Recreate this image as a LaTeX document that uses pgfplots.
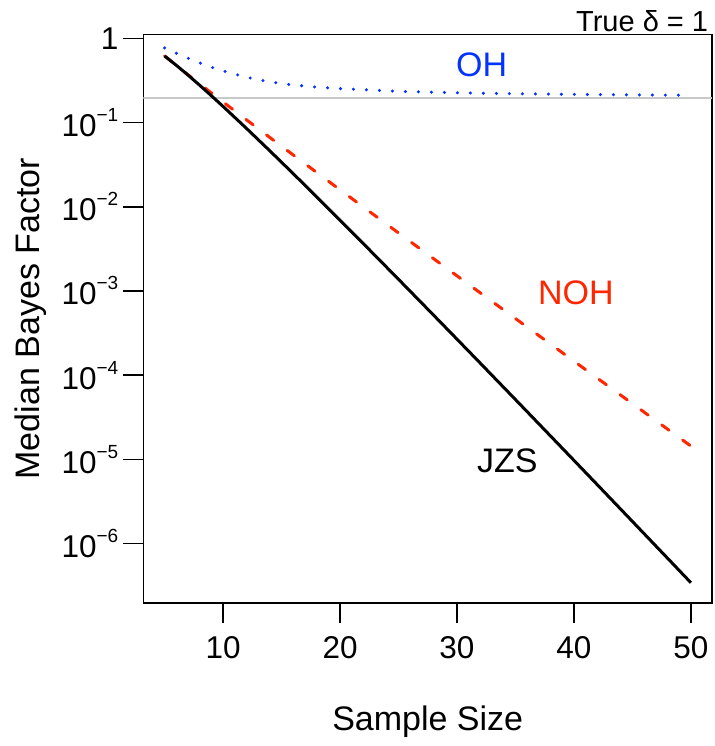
\documentclass[border=0pt]{standalone}
\usepackage{fontspec}
\setmainfont{Liberation Sans}
\usepackage{pgfplots}
\pgfplotsset{compat=1.18}
\definecolor{ohblue}{HTML}{0433FF}
\definecolor{nohred}{HTML}{FF2600}
\definecolor{refgray}{HTML}{C8C8C8}
\newcommand\sx[1]{\raisebox{15bp}{\fontsize{19bp}{19bp}\selectfont #1}}
\newcommand\tickfont{\fontsize{31.5bp}{36bp}\selectfont}
\newcommand\labfont{\fontsize{34bp}{38bp}\selectfont}

\begin{document}
\begin{tikzpicture}
\begin{axis}[name=ax,scale only axis,width=568.5bp,height=568.5bp,
  xmin=3.2,xmax=51.8,ymode=log,ymin=1.963e-7,ymax=1.1156,
  xtick={10,20,30,40,50},xticklabels={10,20,30,40,50},
  ytick={1e-6,1e-5,1e-4,1e-3,1e-2,1e-1,1},
  yticklabels={10\sx{−6},10\sx{−5},10\sx{−4},10\sx{−3},10\sx{−2},10\sx{−1},1},
  yminorticks=false,xtick pos=bottom,ytick pos=left,
  tick align=outside,major tick length=20bp,
  tick style={line width=1.5bp,black},axis line style={line width=1.5bp},
  xticklabel style={font=\tickfont,inner sep=0pt,anchor=north,yshift=-13.7bp},
  yticklabel style={font=\tickfont,inner sep=0pt,anchor=east,xshift=-5bp}]
% reference line
\addplot[refgray,line width=1.5bp] coordinates {(3.2,0.197) (51.8,0.197)};
% OH
\addplot[ohblue,line width=3.4bp,line cap=round,dash pattern=on 0bp off 13bp] coordinates {
(5,0.7727) (6,0.6683) (7,0.5834) (8,0.5129) (9,0.4560) (10,0.4121) (12,0.3467)
(14,0.3048) (16,0.2799) (18,0.2642) (20,0.2541) (22,0.2466) (25,0.2355) (28,0.2301)
(30,0.2265) (32,0.2239) (35,0.2208) (38,0.2183) (40,0.2168) (42,0.2158) (45,0.2138)
(48,0.2123) (50,0.2118)};
% NOH
\addplot[nohred,line width=3bp,line cap=round,dash pattern=on 9bp off 16.8bp] coordinates {
(5,0.6209) (6,0.4792) (7,0.3714) (8,0.2889) (9,0.2254) (10,0.1762) (12,0.1082)
(14,0.06675) (16,0.04131) (18,0.02563) (20,0.01594) (22,0.009933) (25,0.004897)
(28,0.002420) (30,0.001514) (32,9.482e-4) (35,4.705e-4) (38,2.336e-4) (40,1.466e-4)
(42,9.207e-5) (45,4.584e-5) (48,2.284e-5) (50,1.436e-5)};
% JZS
\addplot[black,line width=3bp] coordinates {
(5,0.6206) (6,0.4813) (7,0.3679) (8,0.2785) (9,0.2090) (10,0.1560) (12,0.08557)
(14,0.04628) (16,0.02478) (18,0.01316) (20,0.006945) (22,0.003648) (25,0.001377)
(28,5.164e-4) (30,2.676e-4) (32,1.384e-4) (35,5.125e-5) (38,1.891e-5) (40,9.714e-6)
(42,4.983e-6) (45,1.827e-6) (48,6.682e-7) (50,3.414e-7)};
\node[ohblue,font=\labfont,anchor=base,inner sep=0pt] at (axis cs:32.1,0.3565) {OH};
\node[nohred,font=\labfont,anchor=base,inner sep=0pt] at (axis cs:40.16,7.0e-4) {NOH};
\node[black,font=\labfont,anchor=base,inner sep=0pt] at (axis cs:34.3,6.93e-6) {JZS};
\end{axis}
\node[font=\labfont,anchor=base,inner sep=0pt] at ([yshift=-127.7bp]ax.south) {Sample Size};
\node[font=\labfont,anchor=base,inner sep=0pt,rotate=90] at ([xshift=-103.5bp]ax.west) {Median Bayes Factor};
\node[font=\fontsize{29bp}{33bp}\selectfont,anchor=base east,inner sep=0pt] at ([xshift=-3.7bp,yshift=2.8bp]ax.north east) {True δ = 1};
\pgfresetboundingbox
\path ([xshift=-143.5bp,yshift=-143bp]ax.south west) rectangle ([xshift=3bp,yshift=34.5bp]ax.north east);
\end{tikzpicture}
\end{document}
